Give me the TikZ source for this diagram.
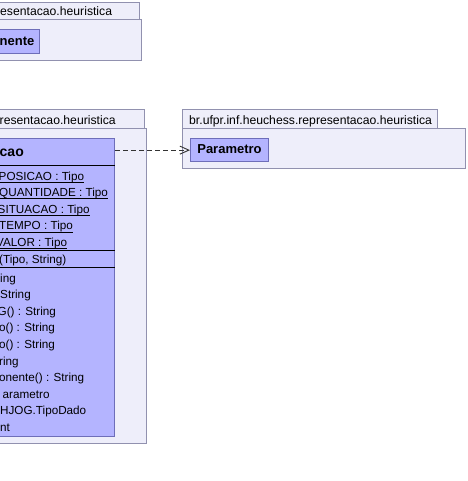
\documentclass[tikz,border=0pt]{standalone}
\usepackage{fontspec}
\setmainfont{Liberation Sans}
\usetikzlibrary{arrows.meta}
\definecolor{pkgfill}{RGB}{238,238,250}
\definecolor{pkgdraw}{RGB}{145,145,175}
\definecolor{clsfill}{RGB}{180,180,255}
\definecolor{clsdraw}{RGB}{110,110,185}
\tikzset{
  pkgbox/.style={draw=pkgdraw, fill=pkgfill, line width=1pt},
  clsbox/.style={draw=clsdraw, fill=clsfill, line width=1pt, inner sep=0pt},
  tablbl/.style={anchor=base west, inner sep=0pt, font=\fontsize{12.2}{14}\selectfont},
  row/.style={anchor=base west, inner sep=0pt, font=\fontsize{11.7}{13}\selectfont},
  ttl/.style={anchor=base west, inner sep=0pt, font=\fontsize{13}{15}\selectfont\bfseries},
  sep/.style={black, line width=1pt},
  uline/.style={black, line width=0.8pt},
  dep/.style={dashed, dash pattern=on 5pt off 3pt, line width=0.9pt, draw=black!80,
    -{Straight Barb[length=9pt,width=8pt,line width=0.9pt]}}
}
\begin{document}
\begin{tikzpicture}[x=1pt,y=-1pt]
\useasboundingbox (0,0) rectangle (467,481);
\clip (0,0) rectangle (467,481);
\fill[white] (0,0) rectangle (467,481);

% top package
\draw[pkgbox] (-200,2.5) rectangle (139,20);
\draw[pkgbox] (-200,20) rectangle (141,61);
\node[tablbl] (t1) at (0,16) {esentacao.heuristica};
\node[clsbox, minimum width=240pt, minimum height=24pt, anchor=north east] (comp) at (40,29.3) {};
\node[ttl] (comptxt) at (-0.5,45.5) {nente};

% middle package
\draw[pkgbox] (-200,110) rectangle (144,129);
\draw[pkgbox] (-200,129) rectangle (146,443.5);
\node[tablbl] (t2) at (-0.5,124.3) {resentacao.heuristica};

% class box
\node[clsbox, minimum width=315.3pt, minimum height=297.7pt, anchor=north east] (cls) at (115.3,138) {};
\draw[sep] (-200,165) -- (115.3,165);
\draw[sep] (-200,250.3) -- (115.3,250.3);
\draw[sep] (-200,267.5) -- (115.3,267.5);
\node[ttl, font=\fontsize{14}{16}\selectfont\bfseries] (title) at (-0.5,156.5) {cao};

% attributes (static, underlined)
\node[row] (a1) at (-1.5,180) {POSICAO : Tipo};
\node[row] (a2) at (-1,196.6) {QUANTIDADE : Tipo};
\node[row] (a3) at (-2.5,213.2) {SITUACAO : Tipo};
\node[row] (a4) at (-1,229.8) {TEMPO : Tipo};
\node[row] (a5) at (-4,246.4) {VALOR : Tipo};
\foreach \a in {a1,a2,a3,a4,a5}{
  \draw[uline] ([yshift=-2.2pt]\a.base west) -- ([yshift=-2.2pt]\a.base east);
}

% constructor
\node[row] (c1) at (-1,263.3) {(Tipo, String)};

% methods
\node[row] (m1) at (0,282) {ing};
\node[row] (m2) at (0,298.6) {String};
\node[row] (m3) at (-2.5,315.2) {G() : String};
\node[row] (m4) at (-1,331.8) {o() : String};
\node[row] (m5) at (-1,348.4) {o() : String};
\node[row] (m6) at (-1,365) {ring};
\node[row] (m7) at (-1,381.6) {onente() : String};
\node[row] (m8) at (2.5,398.2) {arametro};
\node[row] (m9) at (0,414.8) {HJOG.TipoDado};
\node[row] (m10) at (0,431.4) {nt};

% right package
\draw[pkgbox] (182,110) rectangle (437,129);
\draw[pkgbox] (182,129) rectangle (465,168);
\node[tablbl] (t3) at (189,124.3) {br.ufpr.inf.heuchess.representacao.heuristica};
\node[clsbox, minimum width=78pt, minimum height=22.7pt, anchor=north west] (par) at (190,138.3) {};
\node[ttl] (partxt) at (par.center) [anchor=center] {\strut Parametro};

% dependency
\draw[dep] (cls.east |- par.west) -- (par.west);
\end{tikzpicture}
\end{document}
